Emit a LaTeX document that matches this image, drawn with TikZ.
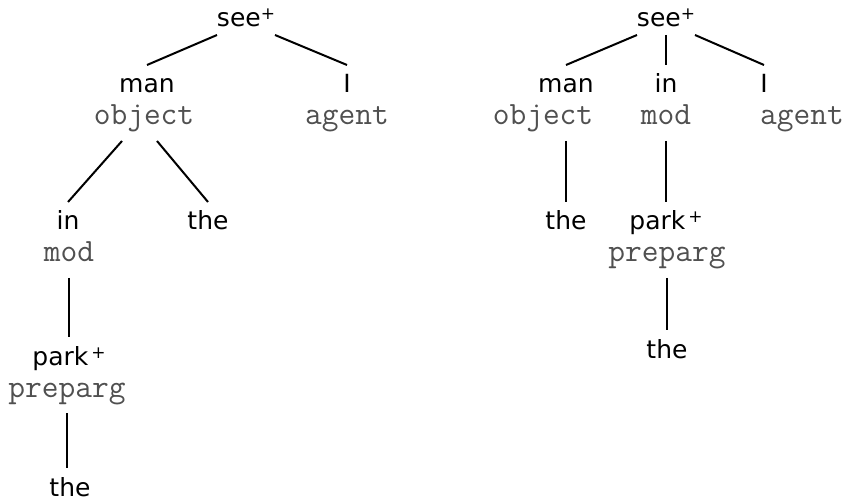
\documentclass[tikz,border=0pt]{standalone}
\usepackage{fontspec}
\newfontfamily\wordfont{DejaVu Sans}
\definecolor{labgray}{RGB}{80,80,80}
\newcommand{\supplus}{\raisebox{7pt}{\fontsize{17}{17}\selectfont +}}

\begin{document}
\begin{tikzpicture}[x=1pt,y=-1pt]
  \tikzstyle{word}=[font=\wordfont\fontsize{25}{29}\selectfont,inner sep=0pt,anchor=base,
    text height=18pt,text depth=5pt,outer xsep=0pt,outer ysep=10pt]
  \tikzstyle{root}=[word,outer ysep=3pt]
  \tikzstyle{lab}=[font=\ttfamily\fontsize{32.5}{34}\selectfont,text=labgray,inner sep=0pt,anchor=base,
    text height=16pt,text depth=6pt,outer xsep=0pt,outer ysep=10pt]
  \tikzstyle{link}=[black,line width=2pt]
  \useasboundingbox (0,0) rectangle (848,502);

  % -- First reading: the park goes with the man --
  \node[root] (see1) at (246,27) {see\supplus};
  \node[word] (man1) at (147,93) {man};
  \node[lab]  (obj1) at (144,125) {object};
  \node[word] (i1)   at (347,93) {I};
  \node[lab]  (agt1) at (347,125) {agent};
  \node[word] (in1)  at (68,230) {in};
  \node[lab]  (mod1) at (69,262) {mod};
  \node[word] (the1) at (208,230) {the};
  \node[word] (park1) at (69,365) {park\kern3pt\supplus};
  \node[lab]  (prep1) at (67,397) {preparg};
  \node[word] (thep1) at (70,496) {the};

  \draw[link] (see1.south west) -- (man1.north);
  \draw[link] (see1.south east) -- (i1.north);
  \draw[link] ([xshift=-22pt]obj1.south) -- (in1.north);
  \draw[link] ([xshift=13pt]obj1.south) -- (the1.north);
  \draw[link] (mod1.south) -- (mod1.south |- park1.north);
  \draw[link] (prep1.south) -- (prep1.south |- thep1.north);

  % -- Second reading: the park goes with the seeing --
  \node[root] (see2) at (666,27) {see\supplus};
  \node[word] (man2) at (566,93) {man};
  \node[lab]  (obj2) at (543,125) {object};
  \node[word] (in2)  at (666,93) {in};
  \node[lab]  (mod2) at (666,125) {mod};
  \node[word] (i2)   at (764,93) {I};
  \node[lab]  (agt2) at (802,125) {agent};
  \node[word] (the2) at (566,230) {the};
  \node[word] (park2) at (666,230) {park\kern3pt\supplus};
  \node[lab]  (prep2) at (667,262) {preparg};
  \node[word] (thep2) at (667,358) {the};

  \draw[link] (see2.south west) -- (man2.north);
  \draw[link] (see2.south) -- (in2.north);
  \draw[link] (see2.south east) -- (i2.north);
  \draw[link] (obj2.south -| the2.north) -- (the2.north);
  \draw[link] (mod2.south) -- (mod2.south |- park2.north);
  \draw[link] (prep2.south) -- (thep2.north);
\end{tikzpicture}
\end{document}
